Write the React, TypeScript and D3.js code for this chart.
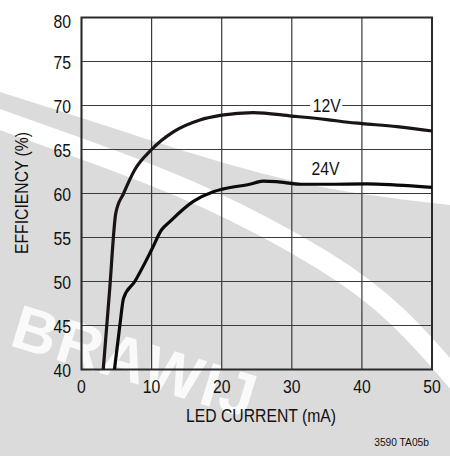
import React from "react";
import * as d3 from "d3";

const xTicks = [0, 10, 20, 30, 40, 50];
const yTicks = [40, 45, 50, 55, 60, 65, 70, 75, 80];

const x12 = [3.1, 4.0, 4.9, 6.0, 7.6, 10.0, 13.1, 16.9, 20.0, 24.5, 30.0, 35.0, 38.0, 40.0, 45.0, 50.0];
const y12 = [40, 48.9, 57.8, 60.0, 62.7, 65.0, 67.0, 68.35, 68.9, 69.2, 68.8, 68.4, 68.1, 67.95, 67.6, 67.1];

const x24 = [4.7, 5.5, 6.0, 7.6, 10.0, 11.4, 12.6, 15.9, 18.8, 20.1, 24.0, 25.9, 27.8, 31.2, 35.0, 40.7, 45.0, 50.0];
const y24 = [40, 45.2, 48.1, 50.0, 53.6, 55.85, 56.8, 59.07, 60.2, 60.5, 61.05, 61.4, 61.34, 61.05, 61.05, 61.1, 60.95, 60.7];

const seriesLabels = ["12V", "24V"];
const xTitle = "LED CURRENT (mA)";
const yTitle = "EFFICIENCY (%)";
const footnote = "3590 TA05b";
const watermark = "BRAWIJ";

const W = 450;
const H = 456;
const FONT = "'Liberation Sans', Arial, Helvetica, sans-serif";
const SX = 0.89;

function T(props: {
  x: number;
  y: number;
  size: number;
  anchor?: string;
  rotate?: number;
  children: React.ReactNode;
}) {
  const { x, y, size, anchor = "middle", rotate = 0, children } = props;
  return (
    <text
      transform={`translate(${x},${y}) rotate(${rotate}) scale(${SX},1)`}
      dy="0.36em"
      textAnchor={anchor}
      fontSize={size}
      fill="#111"
    >
      {children}
    </text>
  );
}

export default function App() {
  const x = d3.scaleLinear().domain([0, 50]).range([81.5, 432]);
  const y = d3.scaleLinear().domain([40, 80]).range([369.5, 17.5]);

  const line = d3
    .line<[number, number]>()
    .x((d) => x(d[0]))
    .y((d) => y(d[1]))
    .curve(d3.curveMonotoneX);

  const d12 = line(x12.map((v, i) => [v, y12[i]] as [number, number])) || "";
  const d24 = line(x24.map((v, i) => [v, y24[i]] as [number, number])) || "";

  // background watermark shapes
  const stripTop = d3.line().curve(d3.curveBasis)([
    [0, 92], [80, 117], [200, 157], [320, 190], [450, 205],
  ] as [number, number][]);
  const bandPath = d3.line().curve(d3.curveBasis)([
    [-10, 116], [80, 148], [200, 192], [333, 263], [400, 315], [460, 385],
  ] as [number, number][]);

  const grayPath = `${stripTop} L450,${H} L0,${H} Z`;

  return (
    <svg
      width={W}
      height={H}
      style={{ position: "absolute", left: 0, top: 0, background: "#fff" }}
      fontFamily={FONT}
    >
      <rect x={0} y={0} width={W} height={H} fill="#ffffff" />
      <path d={grayPath} fill="#dbdbdb" />
      <path d={bandPath || ""} fill="none" stroke="#ffffff" strokeWidth={20} />
      <text
        transform="translate(8,345) rotate(17)"
        fontSize={62}
        fontWeight="bold"
        fill="#ffffff"
        fillOpacity={0.85}
        letterSpacing={2}
        fontFamily={FONT}
      >
        {watermark}
      </text>

      {/* grid */}
      {xTicks.map((t) => (
        <line key={"gx" + t} x1={x(t)} x2={x(t)} y1={y(80)} y2={y(40)} stroke="#3a3a3a" strokeWidth={1.2} />
      ))}
      {yTicks.map((t) => (
        <line key={"gy" + t} x1={x(0)} x2={x(50)} y1={y(t)} y2={y(t)} stroke="#3a3a3a" strokeWidth={1.2} />
      ))}
      <rect
        x={x(0)}
        y={y(80)}
        width={x(50) - x(0)}
        height={y(40) - y(80)}
        fill="none"
        stroke="#2a2a2a"
        strokeWidth={2}
      />

      {/* curves */}
      <path d={d12} fill="none" stroke="#1a1414" strokeWidth={3.2} strokeLinejoin="round" />
      <path d={d24} fill="none" stroke="#0a0a0a" strokeWidth={3.2} strokeLinejoin="round" />

      {/* series labels */}
      <rect x={x(32.6)} y={y(71)} width={x(37.2) - x(32.6)} height={y(69) - y(71)} fill="#ffffff" />
      <T x={x(35)} y={y(70)} size={17.7}>{seriesLabels[0]}</T>
      <T x={x(34.8)} y={y(62.8)} size={17.7}>{seriesLabels[1]}</T>

      {/* y tick labels */}
      {yTicks.map((t, i) => (
        <T key={"ty" + t} x={71} y={y(t) + (i === yTicks.length - 1 ? 4 : 1)} size={17.7} anchor="end">
          {t}
        </T>
      ))}
      {/* x tick labels */}
      {xTicks.map((t) => (
        <T key={"tx" + t} x={x(t)} y={387} size={17.7}>
          {t}
        </T>
      ))}

      <T x={261} y={416} size={17.7}>{xTitle}</T>
      <T x={22} y={193} size={17.7} rotate={-90}>{yTitle}</T>
      <T x={429} y={442} size={11.5} anchor="end">{footnote}</T>
    </svg>
  );
}
